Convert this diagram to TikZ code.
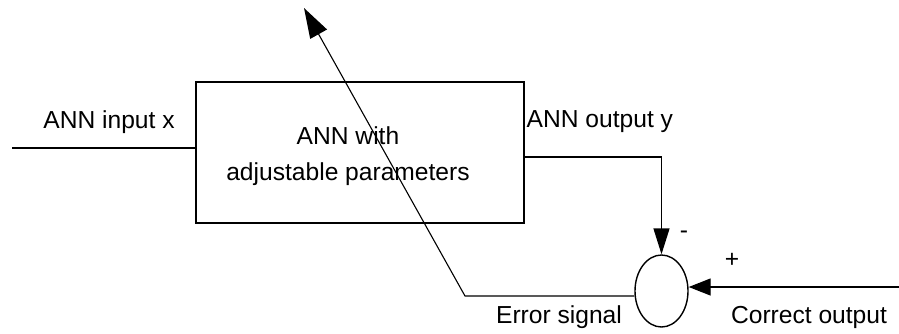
\documentclass[tikz,border=0pt]{standalone}
\usepackage{fontspec}
\setmainfont{Liberation Sans}
\usetikzlibrary{arrows.meta,shapes.geometric}

\begin{document}
\begin{tikzpicture}[x=1pt,y=-1pt,line width=1.4pt,
    lbl/.style={font=\fontsize{24.6}{36}\selectfont,inner sep=0pt},
    annbox/.style={draw,rectangle,minimum width=328,minimum height=141,inner sep=0pt},
    sumnode/.style={draw,ellipse,minimum width=53,minimum height=72,inner sep=0pt}]
\useasboundingbox (0,0) rectangle (899,333);
% blocks
\node[annbox] (ann) at (360,152.5) {};
\node[lbl,align=center] (annlbl) at (348,156) {ANN with\\adjustable parameters};
\node[sumnode] (sum) at (661.5,291) {};
% free ends
\coordinate (xin) at (12,148);
\coordinate (target) at (899,287);
\coordinate (errc) at (465,296);
\coordinate (tip) at (304,8);
% signals
\draw (xin) -- (xin -| ann.west);
\draw[-{Triangle[length=26,width=16]}] ([yshift=-4.5pt]ann.east) -| (sum.north);
\draw[-{Triangle[length=22,width=17]}] (target) -- (target -| sum.east);
\draw[line width=1.1pt,-{Triangle[length=30,width=19]}] ([yshift=-5pt]sum.west) -- (errc) -- (tip);
% texts
\node[lbl] (inlbl) at (109,122) {ANN input x};
\node[lbl,anchor=west] (outlbl) at (526,122) {ANN output y};
\node[lbl] (minus) at (684,235) {-};
\node[lbl] (plus) at (732,260) {+};
\node[lbl] (errlbl) at (559,317) {Error signal};
\node[lbl] (corrlbl) at (809,317) {Correct output};
\end{tikzpicture}
\end{document}
